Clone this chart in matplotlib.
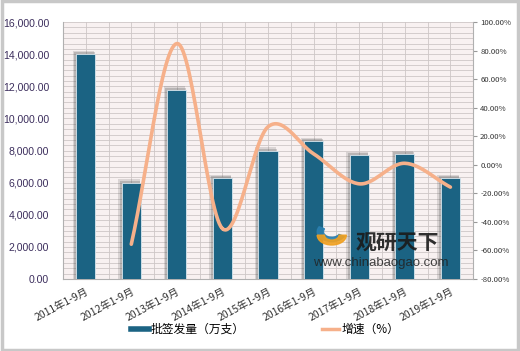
import numpy as np
import matplotlib.pyplot as plt
from matplotlib.lines import Line2D
from matplotlib.patches import Rectangle, Wedge
from matplotlib.ticker import MultipleLocator, FuncFormatter

plt.rcParams['font.family'] = ['Noto Sans CJK SC', 'DejaVu Sans']

categories = ['2011年1-9月', '2012年1-9月', '2013年1-9月', '2014年1-9月', '2015年1-9月',
              '2016年1-9月', '2017年1-9月', '2018年1-9月', '2019年1-9月']
volume = [14000, 6000, 11800, 6300, 8000, 8600, 7700, 7800, 6300]
growth_idx = [1, 2, 3, 4, 5, 6, 7, 8]
growth = [-55.6, 85.0, -44.7, 26.7, 7.7, -13.3, 1.1, -15.6]

BAR_COLOR = '#1b6383'
LINE_COLOR = '#f6b08a'


def catmull_rom(xs, ys, n=30):
    # smooth curve through the points, like Excel's smoothed line
    xs = np.asarray(xs, float)
    ys = np.asarray(ys, float)
    px = np.concatenate([[2 * xs[0] - xs[1]], xs, [2 * xs[-1] - xs[-2]]])
    py = np.concatenate([[2 * ys[0] - ys[1]], ys, [2 * ys[-1] - ys[-2]]])
    out_x, out_y = [], []
    t = np.linspace(0, 1, n)
    for i in range(1, len(px) - 2):
        for p, o in ((px, out_x), (py, out_y)):
            p0, p1, p2, p3 = p[i - 1], p[i], p[i + 1], p[i + 2]
            o.extend(0.5 * (2 * p1 + (-p0 + p2) * t + (2 * p0 - 5 * p1 + 4 * p2 - p3) * t ** 2
                            + (-p0 + 3 * p1 - 3 * p2 + p3) * t ** 3))
    return out_x, out_y


fig = plt.figure(figsize=(5.2, 3.51), dpi=100)
fig.patches.append(Rectangle((0.003, 0.004), 0.994, 0.992, transform=fig.transFigure,
                             fill=False, edgecolor='#c8c8c8', linewidth=2.5))

ax = fig.add_axes([0.121, 0.205, 0.789, 0.732])
ax.set_facecolor('#f8f1f1')
x = np.arange(len(categories))

# soft shadow behind bars (up-left)
for dx, dh, a in ((0.05, 200, 0.18), (0.03, 120, 0.25)):
    ax.bar(x - dx, [v + dh for v in volume], width=0.42 + dx, color='#555555', alpha=a,
           linewidth=0, zorder=2)
ax.bar(x, volume, width=0.42, color=BAR_COLOR, edgecolor='#d8e6ee', linewidth=0.6, zorder=3)

ax.set_xlim(-0.5, len(categories) - 0.5)
ax.set_ylim(0, 16000)
ax.yaxis.set_major_locator(MultipleLocator(2000))
ax.yaxis.set_minor_locator(MultipleLocator(2000 / 6))
ax.xaxis.set_minor_locator(MultipleLocator(0.5))
ax.yaxis.set_major_formatter(FuncFormatter(lambda v, p: f'{v:,.2f}'))
ax.grid(True, which='both', color='#cdc6c6', linewidth=0.6, zorder=0)
ax.set_axisbelow(True)
ax.set_xticks(x)
ax.set_xticklabels(categories, rotation=28, ha='right', fontsize=7.5, color='#333333',
                   rotation_mode='anchor')
ax.tick_params(axis='x', length=0, pad=5, which='both')
ax.tick_params(axis='y', length=0, labelsize=7.6, labelcolor='#3b2d5c', pad=10, which='both',
               labelfontfamily='Liberation Sans')
for s in ['top', 'right']:
    ax.spines[s].set_visible(False)
for s in ['left', 'bottom']:
    ax.spines[s].set_color('#b0b0b0')
    ax.spines[s].set_linewidth(0.8)

ax2 = ax.twinx()
ax2.set_ylim(-80, 100)
ax2.yaxis.set_major_locator(MultipleLocator(20))
ax2.yaxis.set_major_formatter(FuncFormatter(lambda v, p: f'{v:.2f}%'))
ax2.tick_params(axis='y', length=3, color='#999999', labelsize=5.6, labelcolor='#333333', pad=2)
for s in ['top', 'left', 'bottom']:
    ax2.spines[s].set_visible(False)
ax2.spines['right'].set_color('#b0b0b0')
ax2.spines['right'].set_linewidth(0.8)

sx, sy = catmull_rom(growth_idx, growth)
ax2.plot(sx, sy, color=LINE_COLOR, linewidth=2.6, solid_capstyle='round', zorder=4)

# watermark
fig.text(0.683, 0.29, '观研天下', fontsize=15, fontweight='bold', color='#1a1a1a', alpha=0.9)
fig.text(0.602, 0.242, 'www.chinabaogao.com', fontsize=9.5, color='#222222', alpha=0.85,
         family=['Liberation Sans', 'DejaVu Sans'])
fig.patches.append(Wedge((0.638, 0.34), 0.028, 150, 330, width=0.012, transform=fig.transFigure,
                         color='#2a7fb0', alpha=0.9, zorder=5))
fig.patches.append(Wedge((0.638, 0.33), 0.028, 180, 360, width=0.014, transform=fig.transFigure,
                         color='#f0a020', alpha=0.9, zorder=5))

handles = [Line2D([0], [0], color=BAR_COLOR, linewidth=4),
           Line2D([0], [0], color=LINE_COLOR, linewidth=2.5)]
fig.legend(handles, ['批签发量（万支）', '增速（%）'], loc='center', bbox_to_anchor=(0.51, 0.062),
           ncol=2, frameon=False, fontsize=8.5, handlelength=1.5, handletextpad=0.2,
           columnspacing=6.5)

fig.savefig('out.png', dpi=100)
